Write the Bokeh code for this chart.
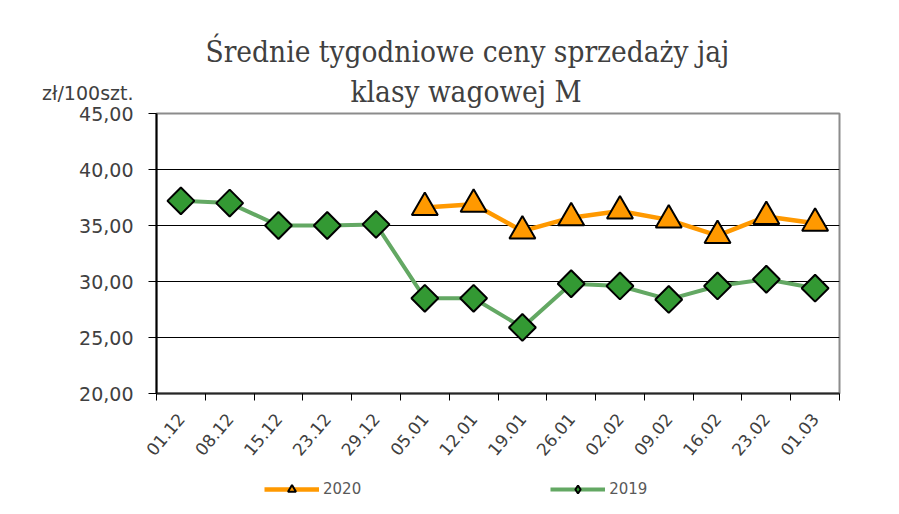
import math
from bokeh.plotting import figure
from bokeh.layouts import column
from bokeh.models import (FactorRange, Range1d, LinearAxis, CategoricalAxis, FixedTicker,
                          Legend, LegendItem, Title)
from bokeh.embed import file_html
from bokeh.resources import INLINE

# ---- data ----
dates = ["01.12", "08.12", "15.12", "23.12", "29.12", "05.01", "12.01",
         "19.01", "26.01", "02.02", "09.02", "16.02", "23.02", "01.03"]
prices_2019 = [37.2, 37.0, 35.0, 35.0, 35.1, 28.5, 28.5, 25.9, 29.8, 29.6, 28.4, 29.6, 30.2, 29.4]
dates_2020 = ["05.01", "12.01", "19.01", "26.01", "02.02", "09.02", "16.02", "23.02", "01.03"]
prices_2020 = [36.6, 36.9, 34.5, 35.7, 36.3, 35.5, 34.1, 35.8, 35.2]
y_ticks = [20, 25, 30, 35, 40, 45]
y_tick_labels = ["20,00", "25,00", "30,00", "35,00", "40,00", "45,00"]
title_line1 = "Średnie tygodniowe ceny sprzedaży jaj"
title_line2 = "klasy wagowej M"
unit_text = "zł/100szt."

SANS = "DejaVu Sans"
SERIF = "DejaVu Serif Condensed"
TXT = "#404040"
NBSP = "\u00a0"
C20_LINE, C20_FILL = "#FF9900", "#FF9900"
C19_LINE, C19_FILL = "#63A863", "#339933"

p = figure(width=890, height=470, x_range=FactorRange(*dates),
           y_range=Range1d(y_ticks[0], y_ticks[-1]),
           output_backend="svg", toolbar_location=None, x_axis_location=None,
           min_border_left=156, min_border_right=51, min_border_top=113,
           min_border_bottom=77)
p.background_fill_color = "white"
p.border_fill_color = "white"
p.outline_line_color = "#8c8c8c"
p.outline_line_width = 2

# title (two lines)
p.title.text = title_line1
p.title.align = "left"
p.title.offset = 49
p.title.text_font = SERIF
p.title.text_font_size = "29.5px"
p.title.text_font_style = "normal"
p.title.text_color = TXT
p.title.standoff = 0
p.add_layout(Title(text=title_line2, align="left", offset=194, text_font=SERIF,
                   text_font_size="29.5px", text_font_style="normal",
                   text_color=TXT, standoff=9), "above")

# grid
p.xgrid.visible = False
p.ygrid.grid_line_color = "black"
p.ygrid.grid_line_width = 1
p.ygrid.ticker = FixedTicker(ticks=y_ticks)

# y axis (the unit sits above the top tick label)
overrides = dict(zip(y_ticks, y_tick_labels))
overrides[y_ticks[-1]] = unit_text + "\n" + y_tick_labels[-1] + "\n" + NBSP
p.yaxis.ticker = FixedTicker(ticks=y_ticks)
p.yaxis.major_label_overrides = overrides
p.yaxis.axis_line_color = "black"
p.yaxis.axis_line_width = 2
p.yaxis.major_tick_line_color = "black"
p.yaxis.major_tick_line_width = 1
p.yaxis.major_tick_out = 8
p.yaxis.major_tick_in = 0
p.yaxis.minor_tick_line_color = None
p.yaxis.major_label_standoff = 15
p.yaxis.major_label_text_font = SANS
p.yaxis.major_label_text_font_size = "19px"
p.yaxis.major_label_text_line_height = 0.95
p.yaxis.major_label_text_color = TXT

# x axis: tick marks at category boundaries (synthetic coordinates of the factor range)
tick_axis = LinearAxis(ticker=FixedTicker(ticks=list(range(len(dates) + 1))),
                       major_label_text_font_size="1px", major_label_text_color=None,
                       major_label_standoff=0,
                       major_tick_out=7, major_tick_in=0,
                       major_tick_line_color="black",
                       minor_tick_line_color=None,
                       axis_line_color="#262626", axis_line_width=2)
p.add_layout(tick_axis, "below")
cat_axis = CategoricalAxis(axis_line_color=None, major_tick_line_color=None,
                           major_label_orientation=0.87, major_label_standoff=9,
                           major_label_text_font=SANS,
                           major_label_text_font_size="17px",
                           major_label_text_color=TXT)
p.add_layout(cat_axis, "below")

# series
p.line(dates_2020, prices_2020, line_color=C20_LINE, line_width=4.5)
p.scatter(dates_2020, prices_2020, marker="triangle", size=26,
          fill_color=C20_FILL, line_color="black", line_width=2)
p.line(dates, prices_2019, line_color=C19_LINE, line_width=4)
p.scatter(dates, prices_2019, marker="square", angle=math.pi / 4, size=19,
          fill_color=C19_FILL, line_color="black", line_width=2)

# legend strip below the chart (its series lie outside its y-range, only the key shows)
lf = figure(width=890, height=43, x_range=FactorRange(*dates), y_range=Range1d(-2, -1),
            output_backend="svg", toolbar_location=None,
            x_axis_location=None, y_axis_location=None, min_border=0)
lf.outline_line_color = None
lf.xgrid.visible = False
lf.ygrid.visible = False
k20l = lf.line(dates_2020, prices_2020, line_color=C20_LINE, line_width=4.5)
k20s = lf.scatter(dates_2020, prices_2020, marker="triangle", size=26,
                  fill_color=C20_FILL, line_color="black", line_width=2)
k19l = lf.line(dates, prices_2019, line_color=C19_LINE, line_width=4)
k19s = lf.scatter(dates, prices_2019, marker="diamond", size=26,
                  fill_color=C19_FILL, line_color="black", line_width=2)
legend = Legend(items=[LegendItem(label="2020", renderers=[k20l, k20s]),
                       LegendItem(label="2019", renderers=[k19l, k19s])],
                orientation="horizontal", location=(108, 14),
                glyph_width=55, glyph_height=20, label_height=20, label_width=36,
                label_standoff=4, spacing=189, padding=0, margin=0,
                border_line_color=None, background_fill_alpha=0,
                label_text_font=SANS, label_text_font_size="15px",
                label_text_color="#595959")
lf.add_layout(legend)

open("out.html", "w").write(file_html(column(p, lf), INLINE))
